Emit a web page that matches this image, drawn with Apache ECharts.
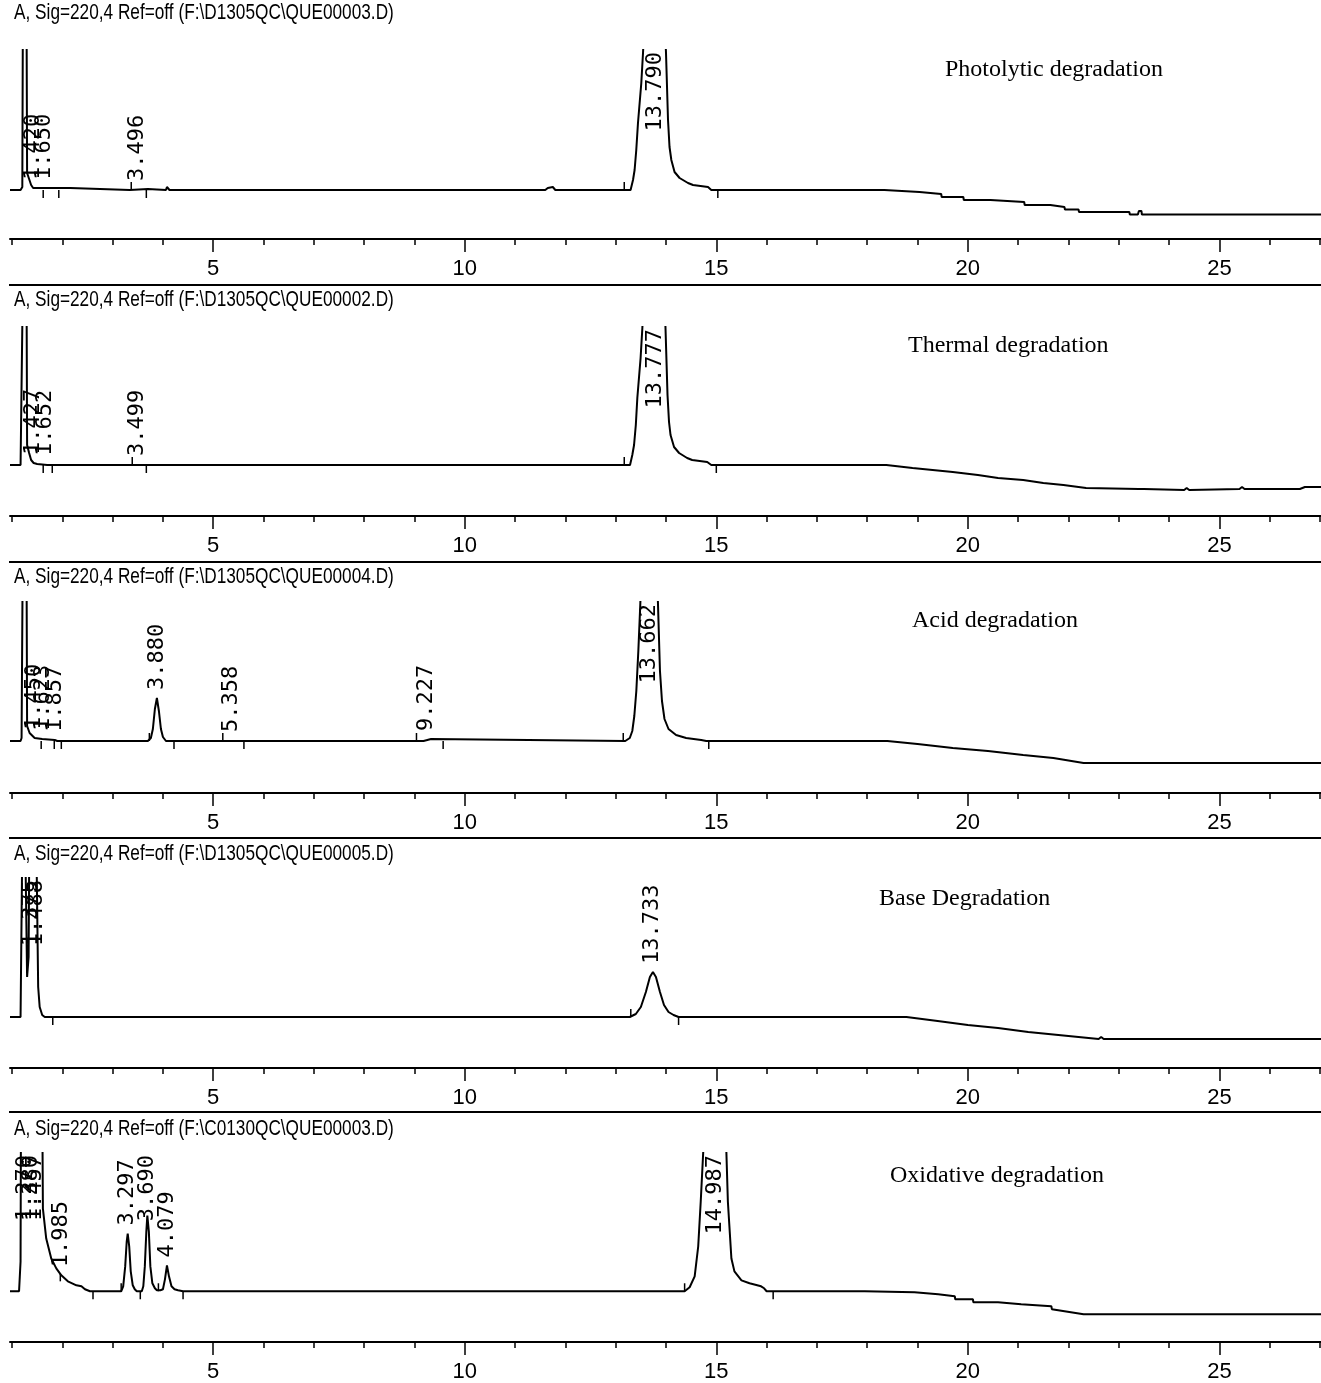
<!DOCTYPE html>
<html><head><meta charset="utf-8">
<script src="https://cdn.jsdelivr.net/npm/echarts@6/dist/echarts.min.js"></script>
<style>html,body{margin:0;padding:0;background:#fff}#c{width:1321px;height:1383px}</style>
</head><body><div id="c"></div>
<script>
// ---------- DATA ----------
const headers = [
  'A, Sig=220,4 Ref=off (F:\\D1305QC\\QUE00003.D)',
  'A, Sig=220,4 Ref=off (F:\\D1305QC\\QUE00002.D)',
  'A, Sig=220,4 Ref=off (F:\\D1305QC\\QUE00004.D)',
  'A, Sig=220,4 Ref=off (F:\\D1305QC\\QUE00005.D)',
  'A, Sig=220,4 Ref=off (F:\\C0130QC\\QUE00003.D)'
];
const annotations = ['Photolytic degradation','Thermal degradation','Acid degradation','Base Degradation','Oxidative degradation'];
const majorTicks = [5,10,15,20,25];
const minorTicks = [1,2,3,4,5,6,7,8,9,10,11,12,13,14,15,16,17,18,19,20,21,22,23,24,25,26,27];
const tRange = [0.96, 27.02];

// traces: [retention time (min), signal (arb. units)]
const photoTrace = [
[0.96,0],[1.17,0],[1.18,1],[1.205,3],[1.215,160],[1.25,400],[1.29,160],[1.30,17],[1.34,11],[1.38,5],[1.42,2],[1.45,2],[2.16,2],[2.18,0],
[3.34,0],[3.36,1],[3.70,1],[3.72,0],[4.06,0],[4.08,3],[4.11,3],[4.13,0],
[11.6,0],[11.65,2],[11.75,3],[11.8,0],
[13.296,0],[13.344,10],[13.376,20],[13.409,40],[13.443,67],[13.509,107],[13.543,137],[13.79,400],[14.0,137],[14.04,70],[14.07,43],[14.106,30],[14.17,18],[14.27,12],[14.437,7],[14.537,5],[14.835,3],[14.9,0],
[18.34,0],[18.35,-2],[19.04,-2],[19.05,-4],[19.47,-4],[19.48,-7],[19.91,-7],[19.92,-10],[20.45,-10],[20.46,-12],[21.12,-12],[21.13,-15],[21.64,-15],[21.65,-17],[21.92,-17],[21.93,-19.5],[22.2,-19.5],[22.21,-22],[23.21,-22],[23.22,-24.5],[23.38,-24.5],[23.40,-21],[23.45,-21],[23.46,-24.5],[27.02,-24.5]
];
const thermalTrace = [
[0.96,0],[1.17,0],[1.19,2],[1.21,160],[1.25,400],[1.29,160],[1.30,20],[1.34,12],[1.38,5],[1.43,2],[1.5,1],[1.7,0],
[3.47,0],[3.50,1],[3.53,0],
[13.285,0],[13.33,10],[13.365,20],[13.40,40],[13.43,67],[13.495,107],[13.53,137],[13.777,400],[13.99,137],[14.03,70],[14.06,43],[14.09,30],[14.16,18],[14.26,12],[14.42,7],[14.52,5],[14.82,3],[14.9,0],
[18.38,0],[18.9,-3],[19.3,-5],[19.7,-7],[20.2,-10],[20.6,-13],[21.1,-15],[21.5,-18],[21.9,-20],[22.35,-23],[23.4,-24],[23.42,-26],[23.5,-24],[24.3,-25],[24.35,-23],[24.4,-25],[25.4,-24],[25.45,-22],[25.5,-24],[26.6,-24],[26.7,-22],[27.02,-22]
];
const acidTrace = [
[0.96,0],[1.17,0],[1.19,3],[1.21,160],[1.25,400],[1.29,160],[1.30,15],[1.35,8],[1.45,3],[1.6,2],[1.85,1],[1.9,0],
[3.70,0],[3.76,3],[3.80,12],[3.84,32],[3.88,43],[3.92,30],[3.96,12],[4.0,4],[4.06,0],
[5.33,0],[5.36,1],[5.39,0],
[9.18,0],[9.2,2],[9.33,2],[9.35,0],
[13.19,0],[13.28,3],[13.33,10],[13.37,25],[13.41,50],[13.45,90],[13.49,138],[13.66,400],[13.84,138],[13.88,70],[13.92,40],[13.97,22],[14.05,12],[14.2,6],[14.4,3],[14.7,1],[14.8,0],
[18.4,0],[19.0,-3],[19.7,-7],[20.4,-10],[21.1,-14],[21.7,-17],[22.3,-22],[27.02,-22]
];
const baseTrace = [
[0.96,0],[1.17,0],[1.2,150],[1.23,400],[1.27,150],[1.30,40],[1.33,60],[1.37,400],[1.45,400],[1.49,150],[1.52,30],[1.55,10],[1.6,2],[1.65,0],
[13.28,0],[13.4,3],[13.5,10],[13.6,25],[13.68,40],[13.74,45],[13.8,40],[13.88,25],[13.96,12],[14.05,5],[14.15,2],[14.25,0],
[18.78,0],[19.4,-4],[20.0,-8],[20.6,-11],[21.2,-15],[21.8,-18],[22.6,-22],[22.65,-20],[22.7,-22],[27.02,-22]
];
const oxTrace = [
[0.96,0],[1.14,0],[1.17,30],[1.19,400],[1.22,200],[1.25,400],[1.3,300],[1.35,400],[1.45,400],[1.60,200],[1.614,83],[1.68,53],[1.78,33],[1.88,23],[1.98,16],[2.11,10],[2.28,6],[2.38,5],[2.45,2],[2.55,0],
[3.17,0],[3.21,5],[3.25,25],[3.28,50],[3.30,58],[3.33,45],[3.36,20],[3.40,6],[3.44,2],[3.48,0],
[3.58,0],[3.61,5],[3.64,25],[3.67,60],[3.69,76],[3.72,60],[3.75,25],[3.79,8],[3.84,3],[3.88,1],
[3.95,1],[4.0,2],[4.04,12],[4.08,26],[4.12,15],[4.17,5],[4.23,2],[4.3,1],[4.4,0],
[14.37,0],[14.47,4],[14.57,15],[14.64,45],[14.69,90],[14.74,140],[14.987,400],[15.20,140],[15.23,90],[15.30,33],[15.36,20],[15.50,11],[15.66,8],[15.89,5],[15.95,3],[16.0,0],
[17.95,0],[17.96,-1],[18.94,-1],[18.95,-3],[19.41,-3],[19.42,-5],[19.74,-5],[19.75,-8],[20.10,-8],[20.11,-11],[20.60,-11],[20.61,-13],[21.06,-13],[21.07,-15],[21.66,-15],[21.67,-18],[22.3,-23],[27.02,-23]
];

// peak annotations: [retention time, apex height, label]
const photoPeaks = [[1.420,2,'1.420'],[1.650,2,'1.650'],[3.496,1,'3.496'],[13.790,400,'13.790']];
const thermalPeaks = [[1.427,2,'1.427'],[1.652,1,'1.652'],[3.499,1,'3.499'],[13.777,400,'13.777']];
const acidPeaks = [[1.450,3,'1.450'],[1.623,2,'1.623'],[1.857,1,'1.857'],[3.880,43,'3.880'],[5.358,1,'5.358'],[9.227,2,'9.227'],[13.662,400,'13.662']];
const basePeaks = [[1.375,400,'1.375'],[1.488,400,'1.488'],[13.733,45,'13.733']];
const oxPeaks = [[1.270,400,'1.270'],[1.380,400,'1.380'],[1.457,400,'1.457'],[1.985,16,'1.985'],[3.297,58,'3.297'],[3.690,76,'3.690'],[4.079,26,'4.079'],[14.987,400,'14.987']];

// integration marks: [retention time, signal level, direction (1 up / -1 down)]
const photoMarks = [[1.62,0,-1],[1.93,0,-1],[3.37,0,1],[3.67,0,-1],[13.17,0,1],[15.03,0,-1]];
const thermalMarks = [[1.62,0,-1],[1.80,0,-1],[3.39,0,1],[3.67,0,-1],[13.17,0,1],[15.0,0,-1]];
const acidMarks = [[1.58,0,-1],[1.84,0,-1],[1.98,0,-1],[3.73,0,1],[4.22,0,-1],[5.19,0,1],[5.61,0,-1],[9.04,0,1],[9.57,0,-1],[13.15,0,1],[14.85,0,-1]];
const baseMarks = [[1.81,0,-1],[13.30,0,1],[14.25,0,-1]];
const oxMarks = [[1.96,10,1],[2.61,0,-1],[3.17,0,1],[3.55,0,-1],[3.91,0,1],[4.40,0,-1],[14.37,0,1],[16.13,0,-1]];

const traces = [photoTrace, thermalTrace, acidTrace, baseTrace, oxTrace];
const peaks = [photoPeaks, thermalPeaks, acidPeaks, basePeaks, oxPeaks];
const marks = [photoMarks, thermalMarks, acidMarks, baseMarks, oxMarks];

// ---------- LAYOUT (pixels) ----------
const layout = [
  {head:2,   top:50,   base:190,  axis:239,  ann:[945,58]},
  {head:289, top:327,  base:465,  axis:516,  ann:[908,334]},
  {head:566, top:602,  base:741,  axis:793,  ann:[912,609]},
  {head:843, top:878,  base:1017, axis:1068, ann:[879,887]},
  {head:1118,top:1153, base:1292, axis:1343, ann:[890,1164]}
];
const separators = [285, 562, 838, 1112];
const sans = '"Liberation Sans",Arial,sans-serif';

const chart = echarts.init(document.getElementById('c'), null, {renderer:'canvas'});
const grid=[], xAxis=[], yAxis=[], series=[], title=[], graphic=[];
layout.forEach((L,i)=>{
  grid.push({left:10, right:0, top:L.top, height:L.axis-L.top, containLabel:false});
  xAxis.push({type:'value', gridIndex:i, min:tRange[0], max:tRange[1], position:'bottom',
    axisLine:{show:true, onZero:false, lineStyle:{color:'#000', width:2}},
    axisTick:{show:true, customValues:minorTicks, length:6, lineStyle:{color:'#000', width:1.5}},
    axisLabel:{show:false}, splitLine:{show:false}});
  xAxis.push({type:'value', gridIndex:i, min:tRange[0], max:tRange[1], position:'bottom',
    axisLine:{show:false, onZero:false},
    axisTick:{show:true, customValues:majorTicks, length:13, lineStyle:{color:'#000', width:1.5}},
    axisLabel:{show:true, customValues:majorTicks, margin:19, color:'#000', fontFamily:sans, fontSize:22, verticalAlign:'top'},
    splitLine:{show:false}});
  yAxis.push({type:'value', gridIndex:i, min:-(L.axis-L.base), max:L.base-L.top, show:false});
  series.push({type:'line', xAxisIndex:2*i, yAxisIndex:i, data:traces[i], showSymbol:false, symbol:'none',
    lineStyle:{color:'#000', width:2}, clip:true, animation:false, silent:true});
  const pk = peaks[i];
  series.push({type:'custom', xAxisIndex:2*i, yAxisIndex:i, data:pk.map(p=>[p[0],p[1]]), animation:false, silent:true, clip:false,
    renderItem:(params, api)=>{
      const p = pk[params.dataIndex];
      const h = Math.min(api.value(1), L.base-L.top);
      const pt = api.coord([api.value(0), h]);
      const len = p[2].length*13.2;
      const gy = params.coordSys.y;
      let y = pt[1]-8, align='left';
      if (y-len < gy+2) { y = gy+2; align='right'; }
      return {type:'text', x:pt[0], y:y, rotation:Math.PI/2,
        style:{text:p[2], fontFamily:'"DejaVu Sans Mono",monospace', fontSize:22, fill:'#000', align:align, verticalAlign:'middle'}};
    }});
  series.push({type:'custom', xAxisIndex:2*i, yAxisIndex:i, data:marks[i], animation:false, silent:true, clip:false,
    renderItem:(params, api)=>{
      const pt = api.coord([api.value(0), api.value(1)]);
      const d = api.value(2);
      return {type:'line', shape:{x1:pt[0], y1:pt[1], x2:pt[0], y2:pt[1]-d*8}, style:{stroke:'#000', lineWidth:1.5}};
    }});
  graphic.push({type:'text', x:14, y:L.head, scaleX:0.783, silent:true,
    style:{text:headers[i], fontFamily:sans, fontSize:22, fill:'#000', align:'left', verticalAlign:'top'}});
  title.push({text:annotations[i], left:L.ann[0], top:L.ann[1], padding:0, textStyle:{fontFamily:'"Liberation Serif","Times New Roman",serif', fontSize:24, fontWeight:'normal', color:'#000'}});
});
separators.forEach(y=>graphic.push({type:'line', shape:{x1:9,y1:y,x2:1321,y2:y}, style:{stroke:'#000', lineWidth:2}, silent:true}));
chart.setOption({animation:false, backgroundColor:'#fff', title, grid, xAxis, yAxis, series, graphic});
</script></body></html>
